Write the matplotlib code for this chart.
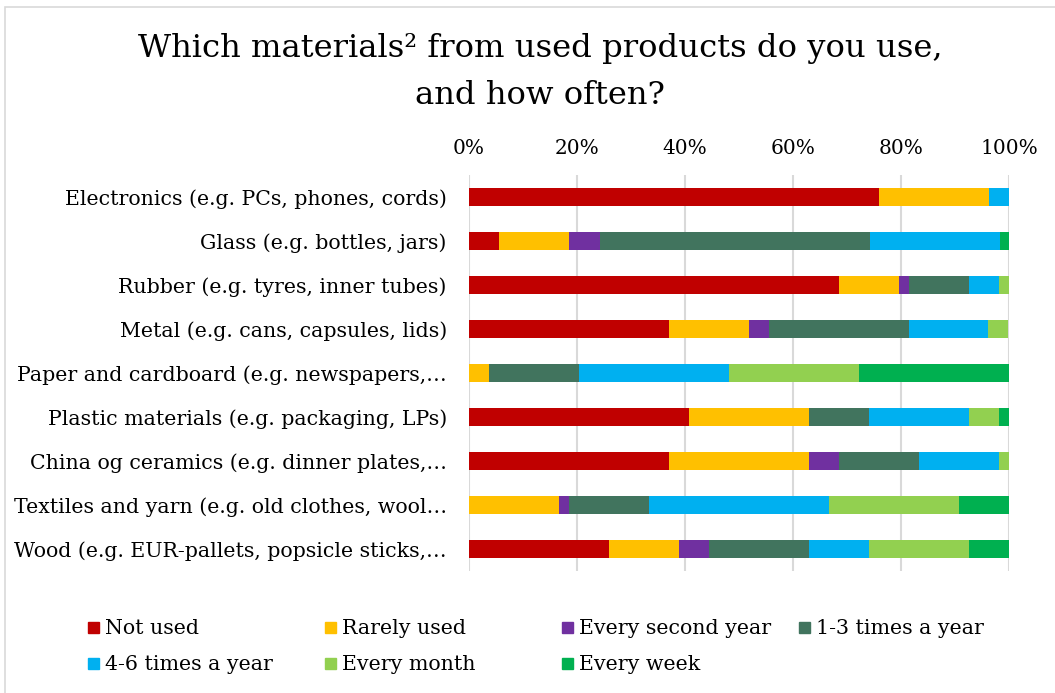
import matplotlib
matplotlib.use("Agg")
import matplotlib.pyplot as plt
from matplotlib.patches import Rectangle
import numpy as np

plt.rcParams['font.family'] = ['DejaVu Serif']

materials = [
    "Electronics (e.g. PCs, phones, cords)",
    "Glass (e.g. bottles, jars)",
    "Rubber (e.g. tyres, inner tubes)",
    "Metal (e.g. cans, capsules, lids)",
    "Paper and cardboard (e.g. newspapers,…",
    "Plastic materials (e.g. packaging, LPs)",
    "China og ceramics (e.g. dinner plates,…",
    "Textiles and yarn (e.g. old clothes, wool…",
    "Wood (e.g. EUR-pallets, popsicle sticks,…",
]

series = ["Not used", "Rarely used", "Every second year", "1-3 times a year",
          "4-6 times a year", "Every month", "Every week"]
colors = ["#C00000", "#FFC000", "#7030A0", "#41745E", "#00B0F0", "#92D050", "#00B050"]

# shares in percent, one list per answer, in the order of materials
not_used     = [75.9, 5.6, 68.5, 37.0, 0.0, 40.7, 37.0, 0.0, 25.9]
rarely_used  = [20.4, 13.0, 11.1, 14.8, 3.7, 22.2, 25.9, 16.7, 13.0]
every_second = [0.0, 5.6, 1.9, 3.7, 0.0, 0.0, 5.6, 1.9, 5.6]
one_three    = [0.0, 50.0, 11.1, 25.9, 16.7, 11.1, 14.8, 14.8, 18.5]
four_six     = [3.7, 24.1, 5.6, 14.8, 27.8, 18.5, 14.8, 33.3, 11.1]
every_month  = [0.0, 0.0, 1.9, 3.7, 24.1, 5.6, 1.9, 24.1, 18.5]
every_week   = [0.0, 1.9, 0.0, 0.0, 27.8, 1.9, 0.0, 9.3, 7.4]

values = [not_used, rarely_used, every_second, one_three, four_six, every_month, every_week]

fig = plt.figure(figsize=(10.55, 6.93), dpi=100)
ax = fig.add_axes([469/1055, 1 - 571/693, 540/1055, 396/693])

y = np.arange(len(materials))
left = np.zeros(len(materials))
for vals, name, col in zip(values, series, colors):
    vals = np.array(vals)
    ax.barh(y, vals, left=left, height=0.4, color=col, label=name, zorder=3)
    left += vals

ax.set_xlim(0, 100)
ax.set_ylim(len(materials) - 0.5, -0.5)
ax.set_yticks(y)
ax.set_yticklabels(materials, fontsize=14.8)
ax.set_xticks(np.arange(0, 101, 20))
ax.set_xticklabels([f"{v}%" for v in range(0, 101, 20)], fontsize=14.5)
ax.xaxis.tick_top()
ax.tick_params(axis='both', length=0)
ax.tick_params(axis='y', pad=16)
ax.tick_params(axis='x', pad=12)
for s in ax.spines.values():
    s.set_visible(False)
ax.grid(axis='x', color='#D9D9D9', linewidth=1.5, zorder=0)

fig.text(540/1055, 1 - 48/693, "Which materials² from used products do you use,",
         ha='center', va='center', fontsize=23.2)
fig.text(540/1055, 1 - 95/693, "and how often?", ha='center', va='center', fontsize=23.2)

# legend, four columns of equal width
for i, (name, col) in enumerate(zip(series, colors)):
    xp = (88 + (i % 4) * 237) / 1055
    yp = 1 - (628 + (i // 4) * 36) / 693
    fig.add_artist(Rectangle((xp, yp - 5/693), 11/1055, 11/693, color=col,
                             transform=fig.transFigure))
    fig.text(xp + 17/1055, yp, name, va='center', ha='left', fontsize=14.8)

# chart frame
fig.add_artist(Rectangle((5/1055, -0.01), 1.1, 1 - 7/693 + 0.01, fill=False,
                         edgecolor='#D9D9D9', linewidth=1.2, transform=fig.transFigure))

fig.savefig("out.png", dpi=100)
